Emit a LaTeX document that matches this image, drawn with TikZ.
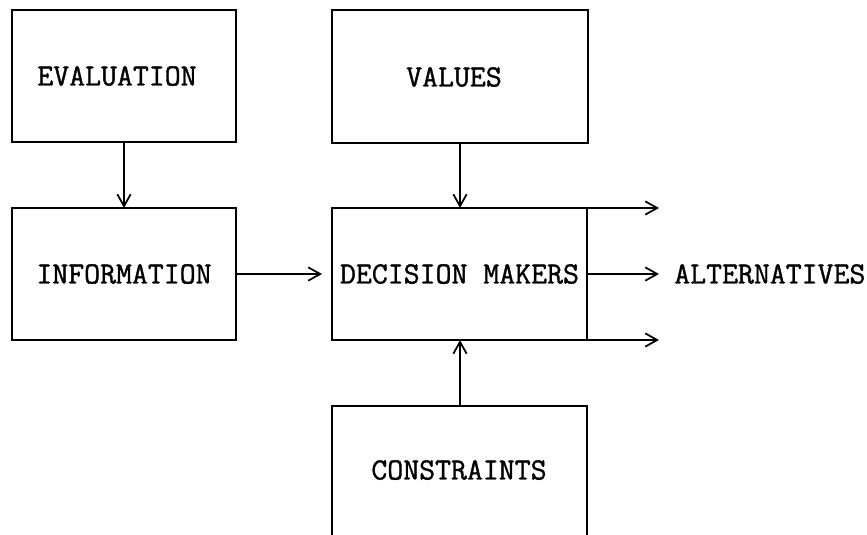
\documentclass[tikz,border=0pt]{standalone}
\usepackage{fontspec}
\newfontfamily\twfont{Latin Modern Mono}[FakeBold=1.2]
\usetikzlibrary{arrows.meta}
\begin{document}
\begin{tikzpicture}[x=0.75pt,y=-0.75pt,
  lbl/.style={font=\twfont\fontsize{23.2}{25}\selectfont, inner sep=0pt},
  box/.style={lbl, draw, line width=1.3pt, outer sep=0pt},
  conn/.style={line width=1.4pt, -{Straight Barb[length=9pt,width=10pt,line width=1.3pt]}}]
\useasboundingbox (0,0) rectangle (867,535);
\clip (0,0) rectangle (867,535);
\node[box, minimum width=168pt, minimum height=99pt] (eval) at (124,76) {};
\node[lbl] (evaltxt) at (117,76) {EVALUATION};
\node[box, minimum width=192pt, minimum height=99.75pt] (vals) at (460,76.5) {};
\node[lbl] (valstxt) at (454,77) {VALUES};
\node[box, minimum width=168pt, minimum height=99pt] (info) at (124,274) {INFORMATION};
\node[box, minimum width=191.25pt, minimum height=99pt] (dm) at (459.5,274) {DECISION MAKERS};
\node[box, minimum width=191.25pt, minimum height=105pt] (cons) at (459.5,476) {};
\node[lbl] (constxt) at (459,470) {CONSTRAINTS};
\node[lbl, anchor=west] (alt) at (674,274) {ALTERNATIVES};
\coordinate (t1) at (659,208);
\coordinate (t2) at (659,274);
\coordinate (t3) at (659,340);
\coordinate (t4) at (322,274);
\coordinate (c1) at (460,406);
\draw[conn] (eval.south) -- (info.north);
\draw[conn] (vals.south) -- (vals.south |- dm.north);
\draw[conn] (c1) -- (c1 |- dm.south);
\draw[conn] (info.east) -- (t4);
\draw[conn] (dm.north east) -- (t1);
\draw[conn] (dm.east) -- (t2);
\draw[conn] (dm.south east) -- (t3);
\end{tikzpicture}
\end{document}
